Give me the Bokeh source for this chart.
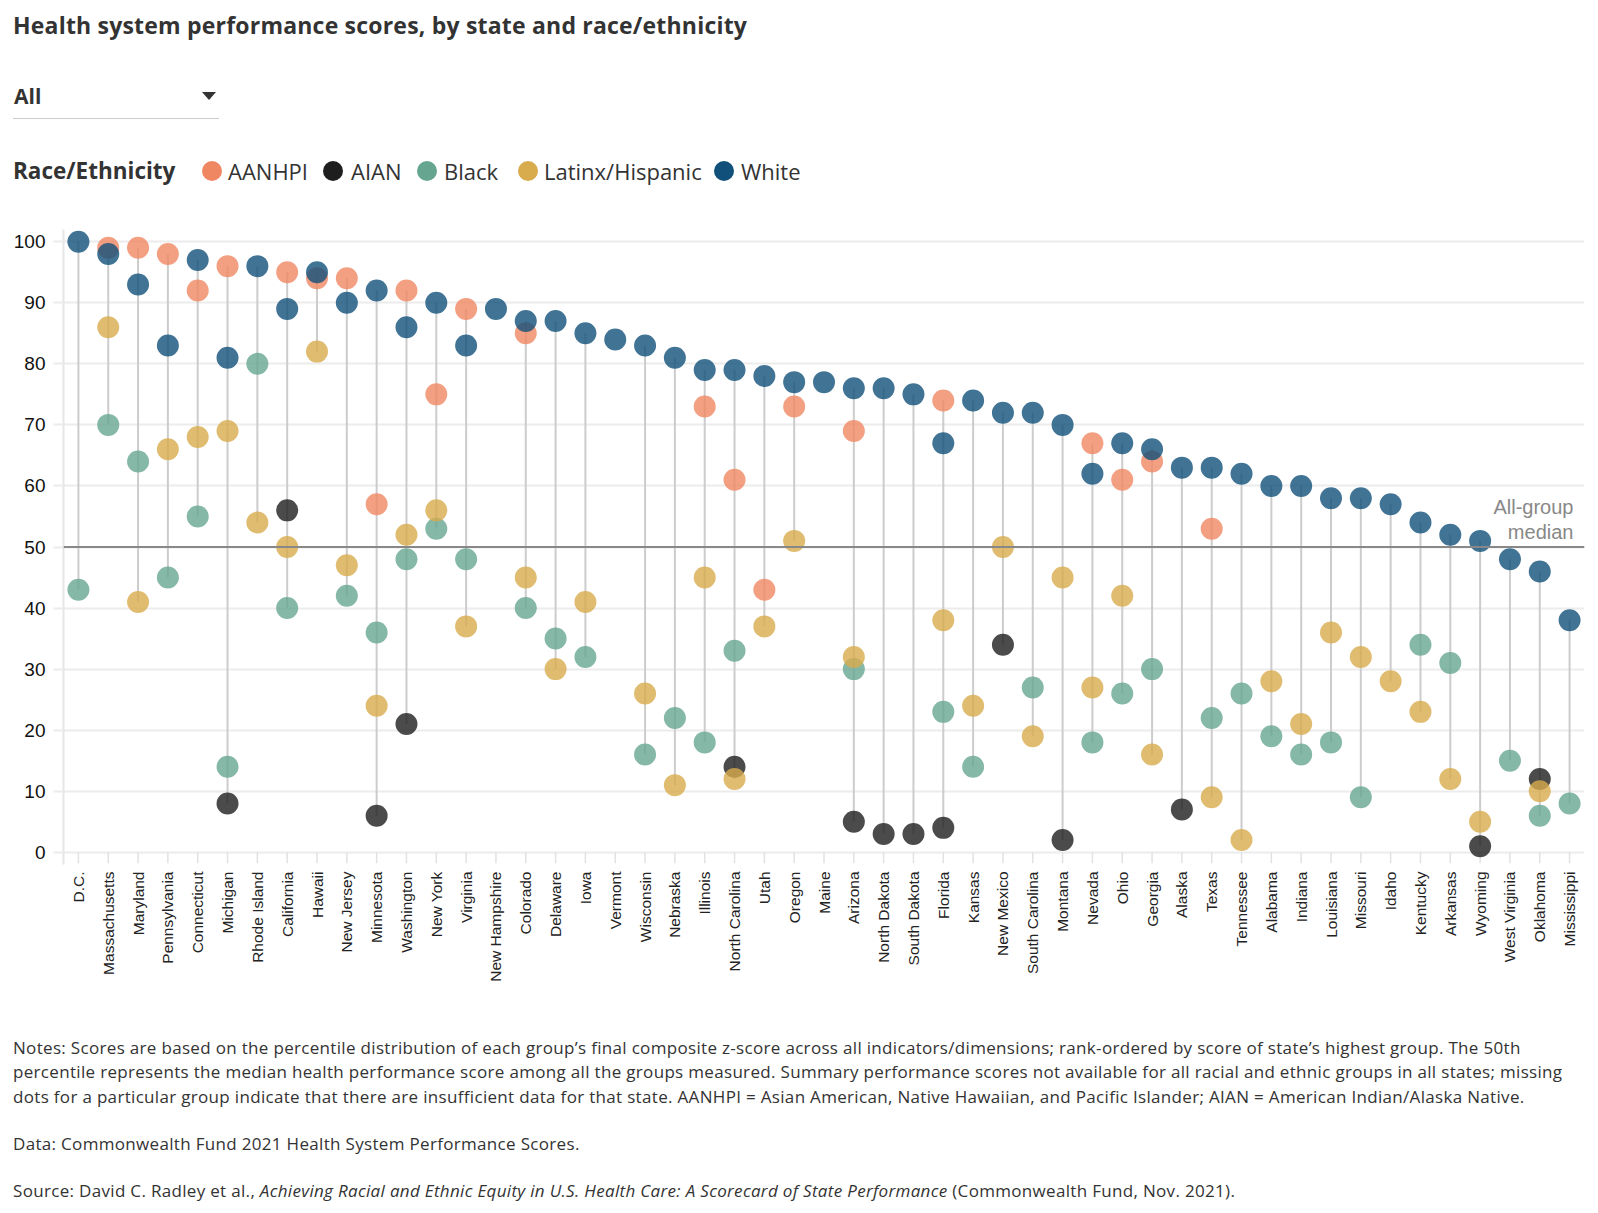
import math
from bokeh.plotting import figure
from bokeh.models import ColumnDataSource, Range1d, FactorRange, FixedTicker, Span, Label, Div
from bokeh.layouts import column
from bokeh.embed import file_html
from bokeh.resources import INLINE

states = ["D.C.", "Massachusetts", "Maryland", "Pennsylvania", "Connecticut", "Michigan",
          "Rhode Island", "California", "Hawaii", "New Jersey", "Minnesota", "Washington",
          "New York", "Virginia", "New Hampshire", "Colorado", "Delaware", "Iowa", "Vermont",
          "Wisconsin", "Nebraska", "Illinois", "North Carolina", "Utah", "Oregon", "Maine",
          "Arizona", "North Dakota", "South Dakota", "Florida", "Kansas", "New Mexico",
          "South Carolina", "Montana", "Nevada", "Ohio", "Georgia", "Alaska", "Texas",
          "Tennessee", "Alabama", "Indiana", "Louisiana", "Missouri", "Idaho", "Kentucky",
          "Arkansas", "Wyoming", "West Virginia", "Oklahoma", "Mississippi"]

N = None
aanhpi = [N, 99, 99, 98, 92, 96, N, 95, 94, 94, 57, 92, 75, 89, N, 85, N, N, N, N, N, 73, 61, 43, 73, N,
          69, N, N, 74, N, N, N, N, 67, 61, 64, N, 53, N, N, N, N, N, N, N, N, N, N, N, N]
aian = [N, N, N, N, N, 8, N, 56, N, N, 6, 21, N, N, N, N, N, N, N, N, N, N, 14, N, N, N,
        5, 3, 3, 4, N, 34, N, 2, N, N, N, 7, N, N, N, N, N, N, N, N, N, 1, N, 12, N]
black = [43, 70, 64, 45, 55, 14, 80, 40, N, 42, 36, 48, 53, 48, N, 40, 35, 32, N, 16, 22, 18, 33, N, N, N,
         30, N, N, 23, 14, N, 27, N, 18, 26, 30, N, 22, 26, 19, 16, 18, 9, N, 34, 31, N, 15, 6, 8]
latinx = [N, 86, 41, 66, 68, 69, 54, 50, 82, 47, 24, 52, 56, 37, N, 45, 30, 41, N, 26, 11, 45, 12, 37, 51, N,
          32, N, N, 38, 24, 50, 19, 45, 27, 42, 16, N, 9, 2, 28, 21, 36, 32, 28, 23, 12, 5, N, 10, N]
white = [100, 98, 93, 83, 97, 81, 96, 89, 95, 90, 92, 86, 90, 83, 89, 87, 87, 85, 84, 83, 81, 79, 79, 78, 77, 77,
         76, 76, 75, 67, 74, 72, 72, 70, 62, 67, 66, 63, 63, 62, 60, 60, 58, 58, 57, 54, 52, 51, 48, 46, 38]

groups = ["AANHPI", "AIAN", "Black", "Latinx/Hispanic", "White"]
group_values = [aanhpi, aian, black, latinx, white]
colors = ["#F08763", "#1E1E1E", "#66A690", "#D8AB4C", "#11507A"]
y_ticks = list(range(0, 101, 10))
median_value = 50

# ---------------- figure ----------------
p = figure(x_range=FactorRange(*states), y_range=Range1d(-2, 102),
           width=1590, height=786, output_backend="svg", toolbar_location=None,
           min_border_left=63, min_border_right=6, min_border_top=21, min_border_bottom=130)
p.outline_line_color = None
p.xgrid.grid_line_color = None
p.ygrid.grid_line_color = "#ececec"
p.ygrid.grid_line_width = 2
p.yaxis.ticker = FixedTicker(ticks=y_ticks)
p.yaxis.axis_line_color = "#e6e6e6"
p.yaxis.axis_line_width = 2
p.yaxis.major_tick_out = 10
p.yaxis.major_tick_in = 0
p.yaxis.major_tick_line_color = "#ececec"
p.yaxis.major_tick_line_width = 2
p.yaxis.minor_tick_line_color = None
p.yaxis.major_label_standoff = 8
p.yaxis.major_label_text_font = "Liberation Sans"
p.yaxis.major_label_text_font_size = "19px"
p.yaxis.major_label_text_color = "#111111"

p.xaxis.axis_line_color = None
p.xaxis.major_tick_line_color = None
p.xaxis.major_tick_out = 0
p.xaxis.major_tick_in = 0
p.xaxis.minor_tick_line_color = None
p.xaxis.major_label_orientation = math.pi / 2
p.xaxis.major_label_standoff = 7
p.xaxis.major_label_text_font = "Liberation Sans"
p.xaxis.major_label_text_font_size = "15.5px"
p.xaxis.major_label_text_color = "#222222"

# small x tick marks below the zero line
p.segment(x0=states, y0=[0] * len(states), x1=states, y1=[-1.8] * len(states),
          line_color="#e2e2e2", line_width=1.5)

# stems from lowest to highest group score
lo, hi = [], []
for i in range(len(states)):
    vals = [g[i] for g in group_values if g[i] is not None]
    lo.append(min(vals))
    hi.append(max(vals))
p.segment(x0=states, y0=lo, x1=states, y1=hi, line_color="#cccccc", line_width=2)

p.add_layout(Span(location=median_value, dimension="width", line_color="#888888", line_width=2))

for name, vals, col in zip(groups, group_values, colors):
    xs = [s for s, v in zip(states, vals) if v is not None]
    ys = [v for v in vals if v is not None]
    src = ColumnDataSource(dict(x=xs, y=ys))
    p.scatter(x="x", y="y", source=src, marker="circle", size=22,
              fill_color=col, fill_alpha=0.8, line_color=None)

p.add_layout(Label(x=50.63, y=56.55, text="All-group", text_align="right", text_baseline="middle",
                   text_font="Liberation Sans", text_font_size="20px", text_color="#888888"))
p.add_layout(Label(x=50.63, y=52.46, text="median", text_align="right", text_baseline="middle",
                   text_font="Liberation Sans", text_font_size="20px", text_color="#888888"))

# ---------------- header ----------------
def ab(left, top, inner, style=""):
    return f'<div style="position:absolute;left:{left}px;top:{top}px;white-space:nowrap;{style}">{inner}</div>'

OS = "font-family:'Open Sans',sans-serif;"
hdr = [ab(13, 12, "Health system performance scores, by state and race/ethnicity",
          OS + "font-weight:700;font-size:23px;line-height:26px;color:#333;letter-spacing:0.2px;"),
       ab(14, 84, "All", OS + "font-weight:700;font-size:21px;line-height:24px;color:#333;"),
       ab(202, 92, "", "width:0;height:0;border-left:7px solid transparent;border-right:7px solid transparent;border-top:8px solid #333;"),
       ab(13, 118, "", "width:206px;height:1px;background:#cccccc;"),
       ab(13, 159, "Race/Ethnicity", OS + "font-weight:700;font-size:22.5px;line-height:24px;color:#333;")]
leg_cx = [212, 333, 427, 528, 724]
leg_tx = [228, 351, 444, 544, 741]
for name, col, cx, tx in zip(groups, colors, leg_cx, leg_tx):
    hdr.append(ab(cx - 10, 161, "", f"width:20px;height:20px;border-radius:10px;background:{col};"))
    hdr.append(ab(tx, 159, name, OS + "font-size:22px;line-height:24px;color:#333;"))
header = Div(text='<div style="position:relative;width:1590px;height:208px;">' + "".join(hdr) + "</div>",
             width=1590, height=208, margin=0)

notes_lines = [
    "Notes: Scores are based on the percentile distribution of each group\u2019s final composite z-score across all indicators/dimensions; rank-ordered by score of state\u2019s highest group. The 50th",
    "percentile represents the median health performance score among all the groups measured. Summary performance scores not available for all racial and ethnic groups in all states; missing",
    "dots for a particular group indicate that there are insufficient data for that state. AANHPI = Asian American, Native Hawaiian, and Pacific Islander; AIAN = American Indian/Alaska Native.",
    "Data: Commonwealth Fund 2021 Health System Performance Scores.",
    "Source: David C. Radley et al., <i>Achieving Racial and Ethnic Equity in U.S. Health Care: A Scorecard of State Performance</i> (Commonwealth Fund, Nov. 2021).",
]
notes_tops = [42, 66, 91, 138, 185]
nl = [ab(13, t, s, OS + "font-size:17px;line-height:24px;color:#333;letter-spacing:0.32px;")
      for s, t in zip(notes_lines, notes_tops)]
notes = Div(text='<div style="position:relative;width:1590px;height:212px;">' + "".join(nl) + "</div>",
            width=1590, height=212, margin=0)

layout = column(header, p, notes, spacing=0)
open("out.html", "w").write(file_html(layout, INLINE))
